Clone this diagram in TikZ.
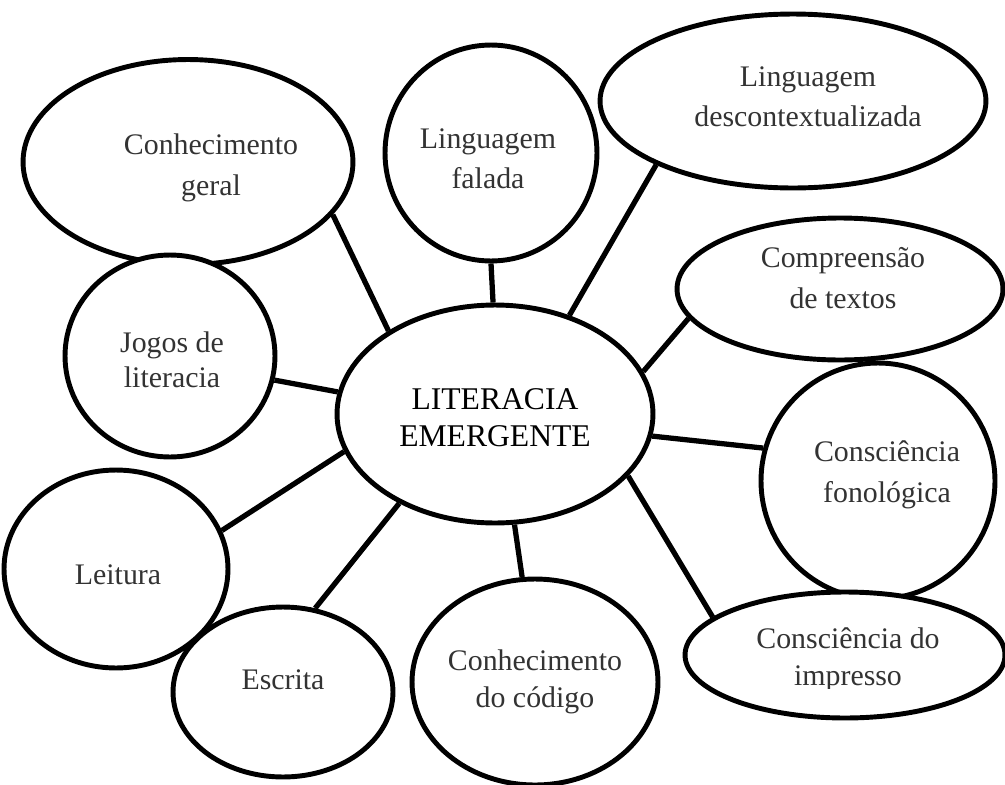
\documentclass[tikz,border=0pt]{standalone}
\usepackage{fontspec}
\setmainfont{Liberation Serif}
\usetikzlibrary{shapes.geometric}
\definecolor{lbltext}{HTML}{333333}
\tikzset{
    bubble/.style={draw, ellipse, line width=2.8pt, inner sep=0pt, fill=white},
    lbl/.style={align=center, text=lbltext, font=\fontsize{17}{23}\selectfont},
    spoke/.style={line width=3pt}
}
\begin{document}
\begin{tikzpicture}[x=0.02cm, y=-0.02cm]
                \useasboundingbox (0,0) rectangle (1005,785);

                \node[bubble, minimum width=6.32cm, minimum height=4.36cm] (lit) at (495,414) {};
                \node[bubble, minimum width=6.6cm, minimum height=4.1cm] (cg) at (188,162) {};
                \node[bubble, minimum width=4.24cm, minimum height=4.32cm] (lf) at (491,153) {};
                \node[bubble, minimum width=7.72cm, minimum height=3.48cm] (ld) at (793,101) {};
                \node[bubble, minimum width=6.52cm, minimum height=2.84cm] (ct) at (840,289) {};
                \node[bubble, minimum width=4.68cm, minimum height=4.72cm] (cf) at (878,481) {};
                \node[bubble, minimum width=6.4cm, minimum height=2.52cm] (ci) at (845,655) {};
                \node[bubble, minimum width=4.92cm, minimum height=4.12cm] (cc) at (535,682) {};
                \node[bubble, minimum width=4.4cm, minimum height=3.4cm] (es) at (283,692) {};
                \node[bubble, minimum width=4.48cm, minimum height=3.96cm] (le) at (116,569) {};
                \node[bubble, minimum width=4.2cm, minimum height=4.04cm] (jl) at (170,356) {};

                \draw[spoke] (lit.142) -- (cg.-20);
                \draw[spoke] (lit.91) -- (lf.-90);
                \draw[spoke] (lit.53) -- (ld.-155);
                \draw[spoke] (lit.16) -- (ct.-169);
                \draw[spoke] (lit.-8) -- (cf.164);
                \draw[spoke] (lit.-25) -- (ci.164);
                \draw[spoke] (lit.-80) -- (cc.97);
                \draw[spoke] (lit.-137) -- (es.69);
                \draw[spoke] (lit.-166) -- (le.20);
                \draw[spoke] (lit.172) -- (jl.-13);

                \node[align=center, font=\fontsize{18}{21}\selectfont] (littext) at (495,418) {LITERACIA\\EMERGENTE};
                \node[lbl] (cgtext) at (211,168) {Conhecimento\\geral};
                \node[lbl] (lftext) at (488,159) {Linguagem\\falada};
                \node[lbl] (ldtext) at (808,97) {Linguagem\\descontextualizada};
                \node[lbl] (cttext) at (843,278) {Compreensão\\de textos};
                \node[lbl] (cftext) at (887,475) {Consciência\\fonológica};
                \begin{scope}
                    \clip (683,560) rectangle (1005,688);
                    \node[lbl, font=\fontsize{17}{21}\selectfont] (citext) at (848,660) {Consciência do\\impresso};
                \end{scope}
                \node[lbl, font=\fontsize{17}{21}\selectfont] (cctext) at (535,682) {Conhecimento\\do código};
                \node[lbl] (estext) at (283,680) {Escrita};
                \node[lbl] (letext) at (118,575) {Leitura};
                \node[lbl, font=\fontsize{17}{20}\selectfont] (jltext) at (172,360) {Jogos de\\literacia};
\end{tikzpicture}
\end{document}
